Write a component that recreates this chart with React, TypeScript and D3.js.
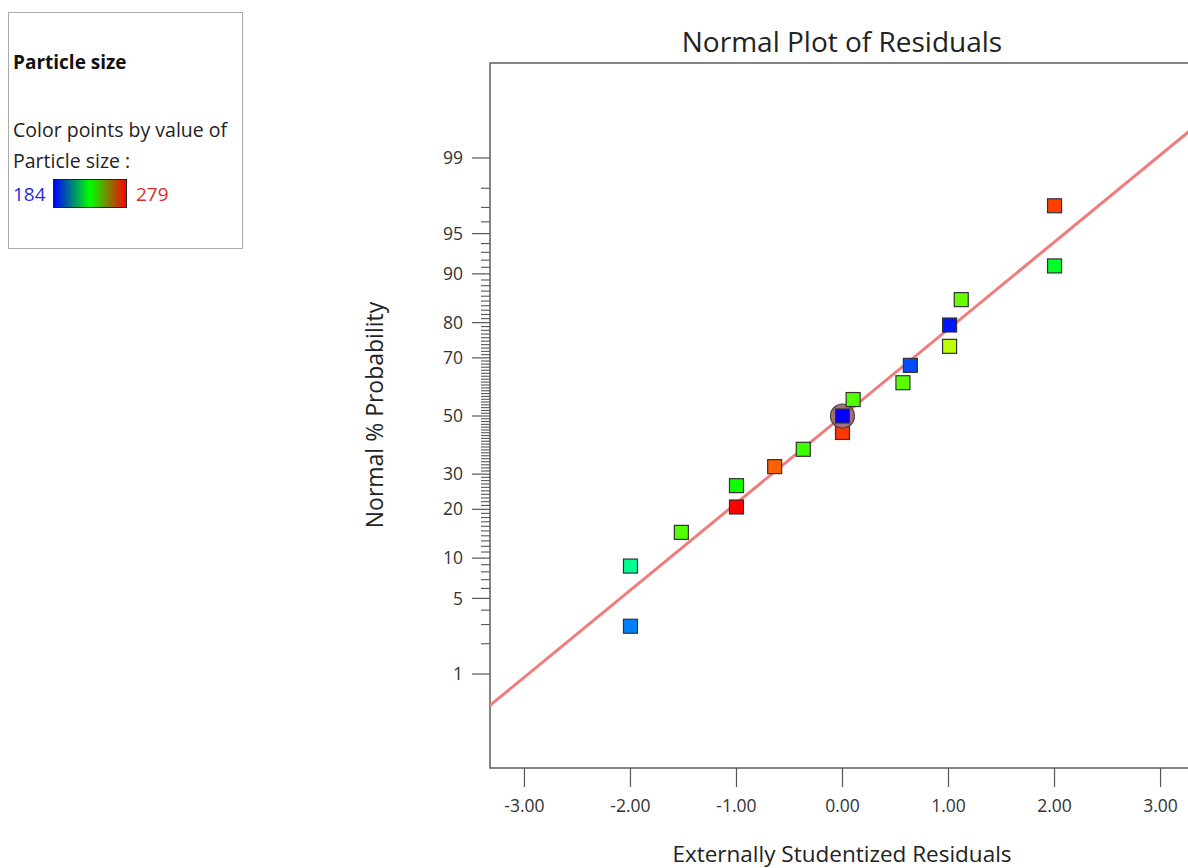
import React from "react";
import * as d3 from "d3";

// ---- data ----
const residuals = [-2.0, -2.0, -1.52, -1.0, -1.0, -0.64, -0.37, 0.0, 0.0, 0.1, 0.57, 0.64, 1.01, 1.01, 1.12, 2.0, 2.0];
const probabilities = [2.9, 8.8, 14.7, 20.6, 26.5, 32.4, 38.2, 44.1, 50.0, 55.9, 61.8, 67.6, 73.5, 79.4, 85.3, 91.2, 97.1];
const particleSize = [196, 218, 239, 279, 233, 270, 237, 274, 184, 239, 240, 191, 249, 186, 241, 228, 273];
const highlightedIndex = 8;
const xTickValues = [-3, -2, -1, 0, 1, 2, 3];
const yMajorTicks = [1, 5, 10, 20, 30, 50, 70, 80, 90, 95, 99];
const yMinorTicks = [2, 3, 4, 6, 7, 8, 9,
  ...d3.range(11, 95).filter((v) => !yMajorTicks.includes(v)),
  96, 97, 98];
const sizeMin = 184;
const sizeMax = 279;
const lineSlope = 0.785; // z per residual unit
const lineIntercept = 0.0;

// inverse standard normal CDF (Acklam)
function probit(p: number): number {
  const a = [-3.969683028665376e1, 2.209460984245205e2, -2.759285104469687e2, 1.38357751867269e2, -3.066479806614716e1, 2.506628277459239];
  const b = [-5.447609879822406e1, 1.615858368580409e2, -1.556989798598866e2, 6.680131188771972e1, -1.328068155288572e1];
  const c = [-7.784894002430293e-3, -3.223964580411365e-1, -2.400758277161838, -2.549732539343734, 4.374664141464968, 2.938163982698783];
  const d = [7.784695709041462e-3, 3.224671290700398e-1, 2.445134137142996, 3.754408661907416];
  const plow = 0.02425;
  const phigh = 1 - plow;
  let q: number, r: number;
  if (p < plow) {
    q = Math.sqrt(-2 * Math.log(p));
    return (((((c[0] * q + c[1]) * q + c[2]) * q + c[3]) * q + c[4]) * q + c[5]) /
      ((((d[0] * q + d[1]) * q + d[2]) * q + d[3]) * q + 1);
  }
  if (p <= phigh) {
    q = p - 0.5;
    r = q * q;
    return (((((a[0] * r + a[1]) * r + a[2]) * r + a[3]) * r + a[4]) * r + a[5]) * q /
      (((((b[0] * r + b[1]) * r + b[2]) * r + b[3]) * r + b[4]) * r + 1);
  }
  q = Math.sqrt(-2 * Math.log(1 - p));
  return -(((((c[0] * q + c[1]) * q + c[2]) * q + c[3]) * q + c[4]) * q + c[5]) /
    ((((d[0] * q + d[1]) * q + d[2]) * q + d[3]) * q + 1);
}

const FONT = "'Open Sans', 'Noto Sans', sans-serif";

export default function App() {
  const left = 490, right = 1195, top = 63, bottom = 768;
  const x = d3.scaleLinear().domain([-3.325, 3.325]).range([left, right]);
  const y = d3.scaleLinear().domain([-3.174, 3.183]).range([bottom, top]);
  const yp = (pct: number) => y(probit(pct / 100));
  const hue = d3.scaleLinear().domain([sizeMin, sizeMax]).range([240, 0]);
  const colorOf = (s: number) => d3.hsl(hue(s), 1, 0.5).formatHex();

  const lineGen = d3.line<number>().x((r) => x(r)).y((r) => y(lineIntercept + lineSlope * r));
  const linePath = lineGen(x.domain()) || "";

  const sq = 14;

  return (
    <div style={{ position: "fixed", left: 0, top: 0 }}>
      <svg width={1188} height={868} style={{ display: "block", background: "#fff" }} fontFamily={FONT}>
        <defs>
          <linearGradient id="legendGrad" x1="0" x2="1" y1="0" y2="0">
            <stop offset="0" stopColor="#0000ff" />
            <stop offset="0.5" stopColor="#00ff00" />
            <stop offset="1" stopColor="#ff0000" />
          </linearGradient>
          <clipPath id="plotClip">
            <rect x={left} y={top} width={right - left} height={bottom - top} />
          </clipPath>
        </defs>

        {/* legend */}
        <rect x={8.5} y={12.5} width={234} height={236} fill="#fff" stroke="#aaa" strokeWidth={1} />
        <text x={13} y={69} fontSize={19} fontWeight="bold" fill="#111">Particle size</text>
        <text x={13} y={137} fontSize={19.5} fill="#222">Color points by value of</text>
        <text x={13} y={168} fontSize={19.5} fill="#222">Particle size :</text>
        <text x={13} y={201} fontSize={19} fill="#2a2ae0">{sizeMin}</text>
        <rect x={53.5} y={179.5} width={73} height={28} fill="url(#legendGrad)" stroke="#222" strokeWidth={1} />
        <text x={136} y={201} fontSize={19} fill="#e02a2a">{sizeMax}</text>

        {/* title */}
        <text x={842} y={52} fontSize={28} textAnchor="middle" fill="#222">Normal Plot of Residuals</text>

        {/* frame */}
        <rect x={left} y={top} width={right - left} height={bottom - top} fill="none" stroke="#666" strokeWidth={1.6} />

        {/* y ticks */}
        {yMinorTicks.map((v) => (
          <line key={"m" + v} x1={left - 9} x2={left} y1={yp(v)} y2={yp(v)} stroke="#555" strokeWidth={1.1} />
        ))}
        {yMajorTicks.map((v) => (
          <g key={"M" + v}>
            <line x1={left - 18} x2={left} y1={yp(v)} y2={yp(v)} stroke="#555" strokeWidth={1.2} />
            <text x={left - 27} y={yp(v)} dy="0.35em" fontSize={17.5} textAnchor="end" fill="#333">{v}</text>
          </g>
        ))}

        {/* x ticks */}
        {xTickValues.map((v) => (
          <g key={"x" + v}>
            <line x1={x(v)} x2={x(v)} y1={bottom} y2={bottom + 19} stroke="#555" strokeWidth={1.2} />
            <text x={x(v)} y={bottom + 44} fontSize={17.5} textAnchor="middle" fill="#333">{v.toFixed(2)}</text>
          </g>
        ))}

        {/* axis labels */}
        <text x={842} y={862} fontSize={22.5} textAnchor="middle" fill="#222">Externally Studentized Residuals</text>
        <text transform={`translate(383,415) rotate(-90)`} fontSize={23} textAnchor="middle" fill="#222">Normal % Probability</text>

        {/* fit line */}
        <g clipPath="url(#plotClip)">
          <path d={linePath} fill="none" stroke="#f07c7c" strokeWidth={3} />
        </g>

        {/* points */}
        {residuals.map((r, i) => (
          <g key={"p" + i}>
            {i === highlightedIndex && (
              <circle cx={x(r)} cy={yp(probabilities[i])} r={12} fill="#a87070" stroke="#444" strokeWidth={1.2} />
            )}
            <rect
              x={x(r) - sq / 2}
              y={yp(probabilities[i]) - sq / 2}
              width={sq}
              height={sq}
              fill={colorOf(particleSize[i])}
              stroke="#333"
              strokeWidth={1.2}
            />
          </g>
        ))}
      </svg>
    </div>
  );
}
